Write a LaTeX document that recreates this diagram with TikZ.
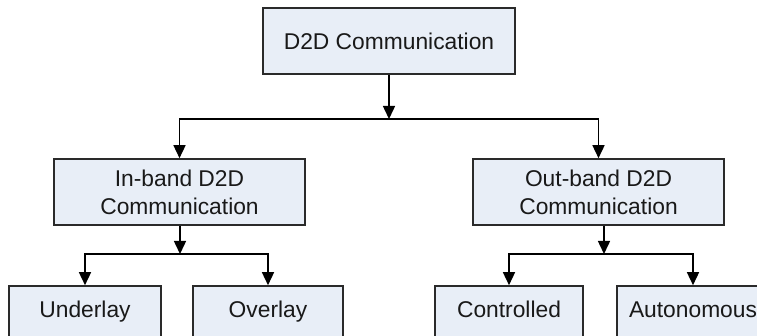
\documentclass[tikz,border=0pt]{standalone}
\usepackage{fontspec}
\setmainfont{Liberation Sans}
\usetikzlibrary{arrows.meta}
\definecolor{boxfill}{HTML}{E8EEF7}
\definecolor{boxline}{HTML}{2A2A2A}
\tikzset{
  box/.style={draw=boxline, fill=boxfill, line width=1.6pt, rectangle, inner sep=0pt,
    align=center, font=\fontsize{22.8}{28}\selectfont, text=black!90},
  leaf/.style={box, text height=16pt, text depth=5pt, minimum height=53pt},
  arr/.style={line width=1.5pt, draw=black, -{Triangle[length=13pt,width=12pt]}}
}
\begin{document}
\begin{tikzpicture}[x=1pt,y=-1pt]
\useasboundingbox (0,0) rectangle (757,336);
\clip (0,0) rectangle (757,336);
\node[box, minimum width=252pt, minimum height=66pt] (top) at (389,41) {D2D Communication};
\node[box, minimum width=251pt, minimum height=66pt] (inb) at (179.5,192) {In-band D2D\\Communication};
\node[box, minimum width=251pt, minimum height=66pt] (outb) at (598.5,192) {Out-band D2D\\Communication};
\node[leaf, minimum width=152pt] (under) at (85,312.5) {Underlay};
\node[leaf, minimum width=150pt] (over) at (268,312.5) {Overlay};
\node[leaf, minimum width=148pt] (ctrl) at (509,312.5) {Controlled};
\node[leaf, minimum width=152pt] (auto) at (693,312.5) {Autonomous};
\coordinate (j1) at (389,119);
\coordinate (j2) at (180,254);
\coordinate (j3) at (604,254);
\draw[arr] (top.south) -- (j1);
\draw[arr] (j1) -| (inb.north);
\draw[arr] (j1) -| (outb.north);
\draw[arr] (inb.south -| j2) -- (j2);
\draw[arr] (j2) -| (under.north);
\draw[arr] (j2) -| (over.north);
\draw[arr] (outb.south -| j3) -- (j3);
\draw[arr] (j3) -| (ctrl.north);
\draw[arr] (j3) -| (auto.north);
\end{tikzpicture}
\end{document}
